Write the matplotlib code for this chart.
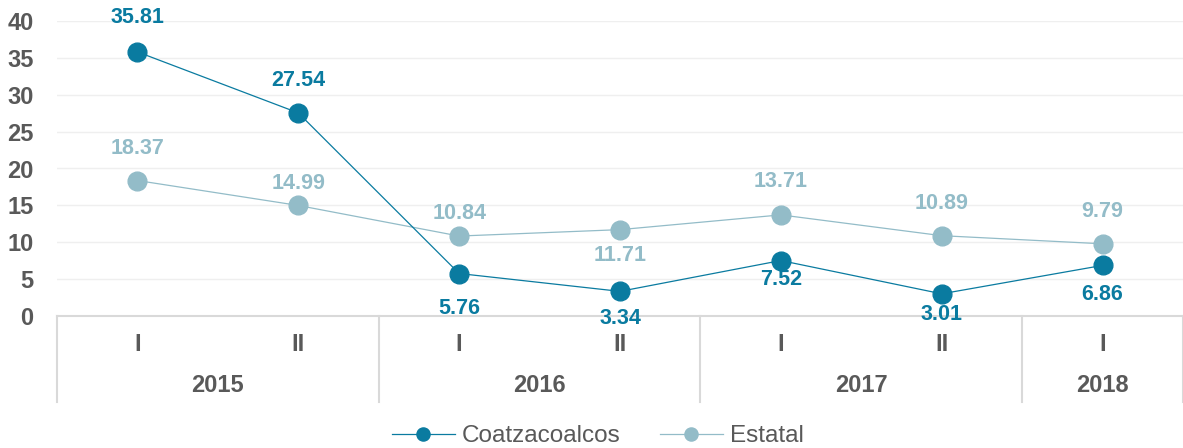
import matplotlib
matplotlib.use("Agg")
import matplotlib.pyplot as plt
import matplotlib.transforms as mtransforms

plt.rcParams['font.family'] = ['Liberation Sans', 'DejaVu Sans']

quarters = ['I', 'II', 'I', 'II', 'I', 'II', 'I']
years = ['2015', '2016', '2017', '2018']
year_spans = [(0, 1), (2, 3), (4, 5), (6, 6)]
coatza = [35.81, 27.54, 5.76, 3.34, 7.52, 3.01, 6.86]
estatal = [18.37, 14.99, 10.84, 11.71, 13.71, 10.89, 9.79]

# label offsets in pixels (hand-placed in the original)
coatza_off = [34, 32, -35, -27, -19, -21, -29]
estatal_off = [32, 22, 23, -26, 33, 32, 32]

dark = '#0A7BA0'
light = '#93BCC8'
gray = '#595959'

fig = plt.figure(figsize=(11.83, 4.48), dpi=100)
ax = fig.add_axes([57 / 1183, 1 - 316 / 448, 1 - 57 / 1183, 295 / 448])

x = list(range(len(quarters)))
ax.plot(x, coatza, color=dark, lw=0.9, marker='o', ms=13.5, label='Coatzacoalcos', zorder=3)
ax.plot(x, estatal, color=light, lw=0.9, marker='o', ms=13.5, label='Estatal', zorder=2)

for xi, v, off in zip(x, coatza, coatza_off):
    ax.annotate(f'{v:.2f}', (xi, v), xytext=(0, off), textcoords='offset pixels',
                ha='center', va='center', color=dark, fontsize=15.5, fontweight='bold', zorder=4)
for xi, v, off in zip(x, estatal, estatal_off):
    ax.annotate(f'{v:.2f}', (xi, v), xytext=(0, off), textcoords='offset pixels',
                ha='center', va='center', color=light, fontsize=15.5, fontweight='bold', zorder=4)

ax.set_xlim(-0.5, 6.5)
ax.set_ylim(0, 40)
ax.set_yticks(range(0, 41, 5))
ax.tick_params(axis='y', length=0, labelsize=17, labelcolor=gray, pad=17)
for lbl in ax.get_yticklabels():
    lbl.set_fontweight('bold')
ax.set_xticks([])
ax.grid(axis='y', color='#EFEFEF', lw=1)
ax.set_axisbelow(True)
for s in ['top', 'right', 'left']:
    ax.spines[s].set_visible(False)
ax.spines['bottom'].set_color('#D9D9D9')
ax.spines['bottom'].set_linewidth(1.5)

trans = mtransforms.blended_transform_factory(ax.transData, ax.transAxes)
for xs in [-0.5, 1.5, 3.5, 5.5, 6.5]:
    ax.plot([xs, xs], [0, -0.29], transform=trans, color='#D9D9D9', lw=1.5, clip_on=False)
for xi, q in zip(x, quarters):
    ax.text(xi, -0.098, q, transform=trans, ha='center', va='center',
            fontsize=17, fontweight='bold', color=gray)
for yr, (a, b) in zip(years, year_spans):
    ax.text((a + b) / 2, -0.234, yr, transform=trans, ha='center', va='center',
            fontsize=17, fontweight='bold', color=gray)

fig.legend(loc='center', bbox_to_anchor=(598 / 1183, 1 - 436 / 448), ncol=2, frameon=False,
           fontsize=17.5, labelcolor=gray, markerscale=0.7, handlelength=2.6, columnspacing=1.6,
           handletextpad=0.3)

fig.savefig('out.png', dpi=100)
